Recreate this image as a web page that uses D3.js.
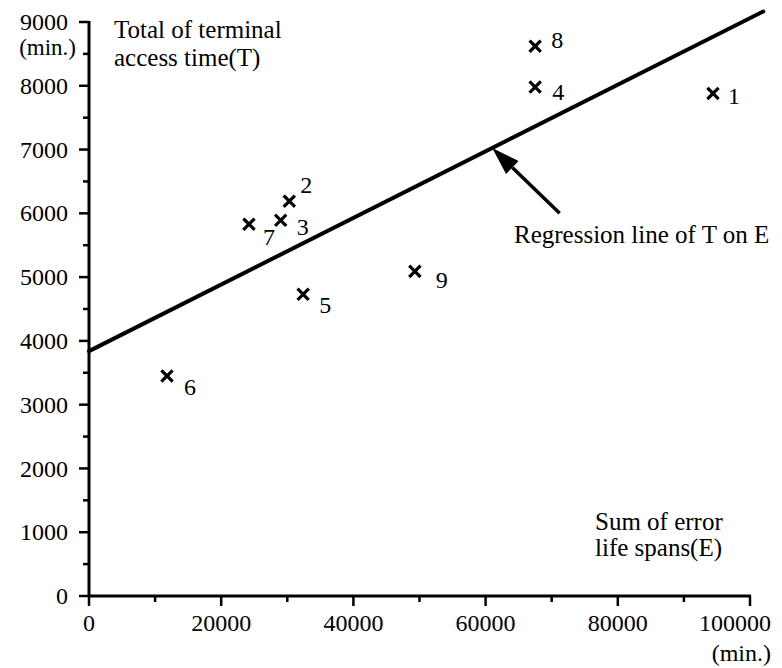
<!DOCTYPE html>
<html>
<head>
<meta charset="utf-8">
<script src="https://cdn.jsdelivr.net/npm/d3@7"></script>
<style>
  body { margin: 0; background: #fff; }
  svg { display: block; }
  text { font-family: "Liberation Serif", "Times New Roman", serif; fill: #000; }
</style>
</head>
<body>
<svg id="chart" width="782" height="668"></svg>
<script>
// observations: E = sum of error life spans (min.), T = terminal access time (min.)
const ids = [1, 2, 3, 4, 5, 6, 7, 8, 9];
const errorSpans = [94400, 30300, 29000, 67500, 32400, 11800, 24200, 67500, 49300];
const accessTimes = [7880, 6190, 5890, 7980, 4730, 3450, 5830, 8620, 5090];

// regression line of T on E
const intercept = 3840;
const slope = 0.0522;
const lineEnd = 102000;

const xTicks = [0, 20000, 40000, 60000, 80000, 100000];
const yTicks = [0, 1000, 2000, 3000, 4000, 5000, 6000, 7000, 8000, 9000];

// label placement next to each cross (px: dx, baseline dy)
const labelOffsets = {
  1: [15, 11], 2: [11, -8], 3: [16, 15], 4: [17, 13], 5: [16, 19],
  6: [17, 19], 7: [14, 21], 8: [16, 2], 9: [21, 17]
};

const points = ids.map((id, i) => ({ id, e: errorSpans[i], t: accessTimes[i] }));

const svg = d3.select("#chart");
svg.append("rect").attr("width", 782).attr("height", 668).attr("fill", "#fff");

const x = d3.scaleLinear().domain([0, 100000]).range([89, 750]);
const y = d3.scaleLinear().domain([0, 9000]).range([596, 22]);

// y axis
const yAxis = svg.append("g").attr("transform", `translate(${x(0)},0)`);
yAxis.append("line")
  .attr("y1", y(0) + 1).attr("y2", y(9000) - 1)
  .attr("stroke", "#000").attr("stroke-width", 3);
yAxis.selectAll(".major")
  .data(yTicks)
  .join("line")
  .attr("x1", -10).attr("x2", 0)
  .attr("y1", d => y(d)).attr("y2", d => y(d))
  .attr("stroke", "#000").attr("stroke-width", 2.5);
yAxis.selectAll(".minor")
  .data(d3.range(500, 9000, 1000))
  .join("line")
  .attr("x1", -6).attr("x2", 0)
  .attr("y1", d => y(d)).attr("y2", d => y(d))
  .attr("stroke", "#000").attr("stroke-width", 2.5);
yAxis.selectAll("text")
  .data(yTicks)
  .join("text")
  .attr("x", -21)
  .attr("y", d => y(d))
  .attr("dy", "0.34em")
  .attr("text-anchor", "end")
  .style("font-size", "24px")
  .text(d => d);

svg.append("text")
  .attr("x", 76).attr("y", 55)
  .attr("text-anchor", "end")
  .style("font-size", "23px")
  .text("(min.)");

// x axis
const xAxis = svg.append("g").attr("transform", `translate(0,${y(0)})`);
xAxis.append("line")
  .attr("x1", x(0) - 1).attr("x2", x(100000) + 1)
  .attr("stroke", "#000").attr("stroke-width", 3);
xAxis.selectAll(".major")
  .data(xTicks)
  .join("line")
  .attr("x1", d => x(d)).attr("x2", d => x(d))
  .attr("y1", 0).attr("y2", 10)
  .attr("stroke", "#000").attr("stroke-width", 2.5);
xAxis.selectAll(".minor")
  .data(d3.range(10000, 100000, 20000))
  .join("line")
  .attr("x1", d => x(d)).attr("x2", d => x(d))
  .attr("y1", 0).attr("y2", 6)
  .attr("stroke", "#000").attr("stroke-width", 2.5);
// the last label is pulled left so it stays inside the frame
xAxis.selectAll("text")
  .data(xTicks)
  .join("text")
  .attr("x", (d, i) => i === xTicks.length - 1 ? 771 : x(d))
  .attr("y", 35)
  .attr("text-anchor", (d, i) => i === xTicks.length - 1 ? "end" : "middle")
  .style("font-size", "24px")
  .text(d => d);

svg.append("text")
  .attr("x", 771).attr("y", 661)
  .attr("text-anchor", "end")
  .style("font-size", "24px")
  .text("(min.)");

// axis titles
const yTitle = svg.append("text").attr("x", 114).attr("y", 38).style("font-size", "25px");
yTitle.append("tspan").attr("x", 114).text("Total of terminal");
yTitle.append("tspan").attr("x", 114).attr("dy", 28).text("access time(T)");

const xTitle = svg.append("text").attr("x", 595).attr("y", 530).style("font-size", "25px");
xTitle.append("tspan").attr("x", 595).text("Sum of error");
xTitle.append("tspan").attr("x", 595).attr("dy", 26).text("life spans(E)");

// regression line
svg.append("line")
  .attr("x1", x(0)).attr("y1", y(intercept))
  .attr("x2", x(lineEnd)).attr("y2", y(intercept + slope * lineEnd))
  .attr("stroke", "#000").attr("stroke-width", 4)
  .attr("stroke-linecap", "round");

// arrow pointing to the line
const tipE = 61000;
const tip = [x(tipE), y(intercept + slope * tipE)];
const tail = [x(71200), y(6000)];
const ang = Math.atan2(tip[1] - tail[1], tip[0] - tail[0]);
const headLen = 28, headW = 9;
const base = [tip[0] - headLen * Math.cos(ang), tip[1] - headLen * Math.sin(ang)];
svg.append("line")
  .attr("x1", tail[0]).attr("y1", tail[1])
  .attr("x2", base[0]).attr("y2", base[1])
  .attr("stroke", "#000").attr("stroke-width", 3.5);
svg.append("path")
  .attr("d", d3.line()([
    tip,
    [base[0] + headW * Math.sin(ang), base[1] - headW * Math.cos(ang)],
    [base[0] - headW * Math.sin(ang), base[1] + headW * Math.cos(ang)]
  ]) + "Z")
  .attr("fill", "#000");

svg.append("text")
  .attr("x", x(64300)).attr("y", 243)
  .style("font-size", "25px")
  .text("Regression line of T on E");

// crosses
const s = 4.5;
const marks = svg.append("g");
marks.selectAll("path")
  .data(points)
  .join("path")
  .attr("d", d => {
    const cx = x(d.e), cy = y(d.t);
    return `M${cx - s},${cy - s}L${cx + s},${cy + s}M${cx - s},${cy + s}L${cx + s},${cy - s}`;
  })
  .attr("stroke", "#000").attr("stroke-width", 3.2)
  .attr("stroke-linecap", "square");

marks.selectAll("text")
  .data(points)
  .join("text")
  .attr("x", d => x(d.e) + labelOffsets[d.id][0])
  .attr("y", d => y(d.t) + labelOffsets[d.id][1])
  .style("font-size", "24px")
  .text(d => d.id);
</script>
</body>
</html>
